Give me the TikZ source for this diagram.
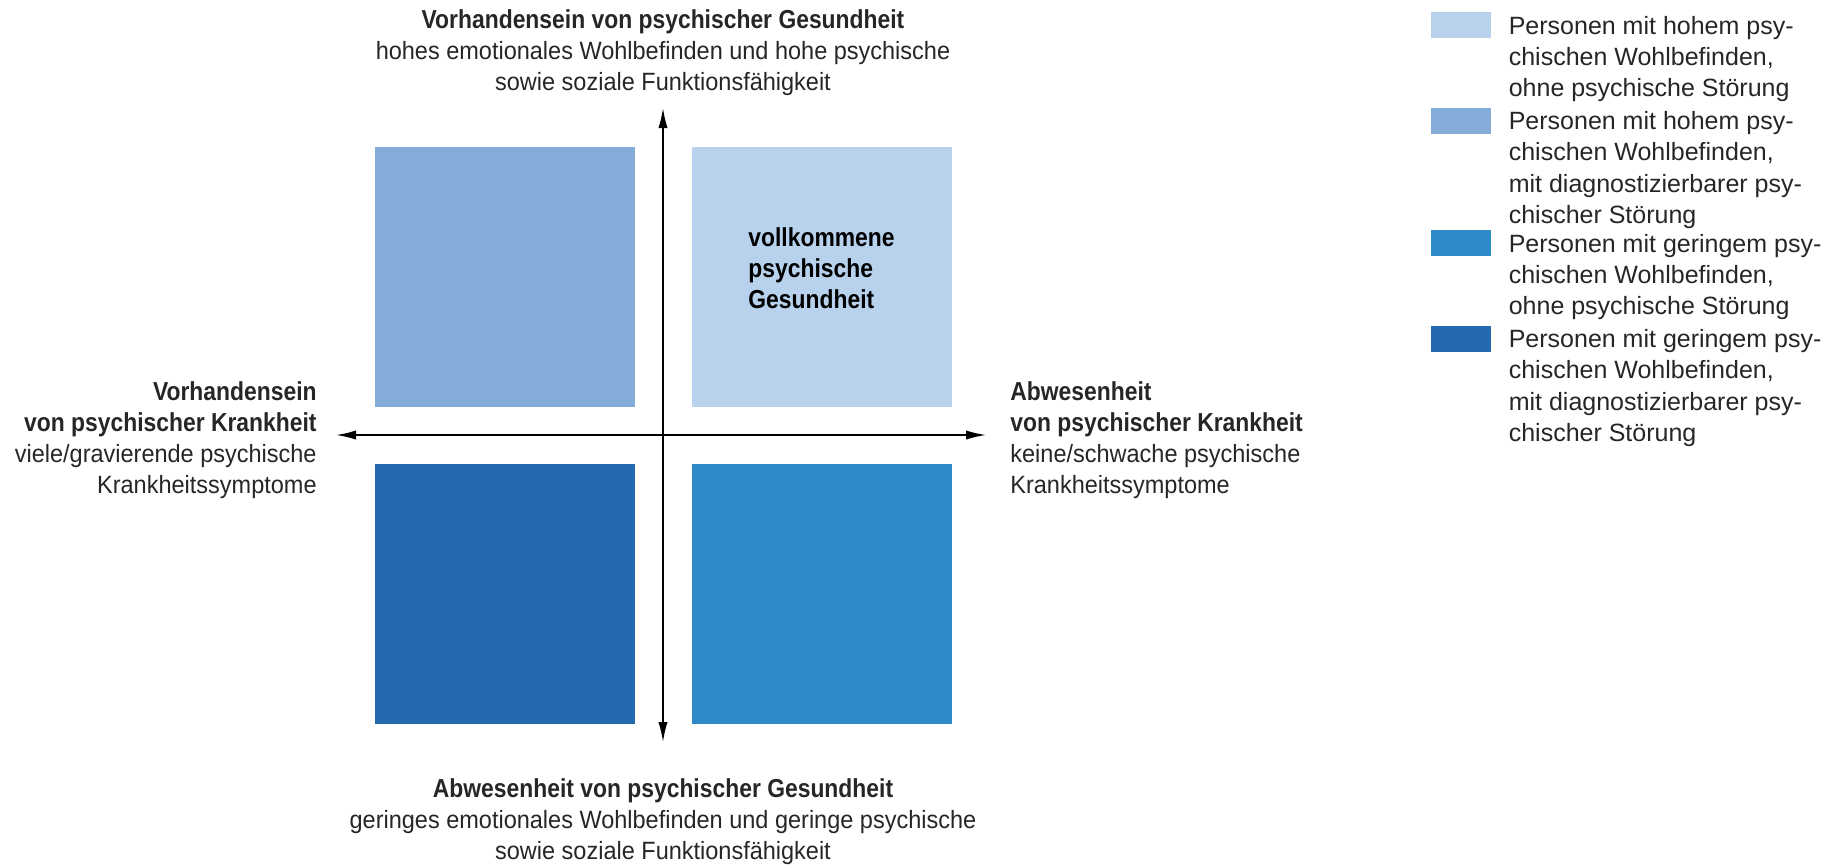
\documentclass[tikz,border=0pt]{standalone}
\usepackage{fontspec}
\setmainfont{Liberation Sans}
\newfontfamily\headfont{Liberation Sans}[FakeStretch=0.88]
\newfontfamily\bodyfont{Liberation Sans}[FakeStretch=0.94]
\newcommand\headtxt{\headfont\bfseries\fontsize{13}{15.6}\selectfont}
\usetikzlibrary{positioning,arrows.meta}
\definecolor{blueLight}{RGB}{184,209,236}
\definecolor{blueMid}{RGB}{131,173,216}
\definecolor{blueBright}{RGB}{46,139,200}
\definecolor{blueDark}{RGB}{35,106,177}
\tikzset{
  quad/.style={draw=none, minimum width=130pt, minimum height=130pt, inner sep=0pt},
  swatch/.style={draw=none, minimum width=30pt, minimum height=13pt, inner sep=0pt},
  axis/.style={{Latex[length=10pt,width=4.6pt]}-{Latex[length=10pt,width=4.6pt]}, line width=0.8pt},
  lbl/.style={inner sep=0pt, font=\fontsize{12.5}{15.6}\selectfont, text=black!85},
  axlbl/.style={lbl, font=\bodyfont\fontsize{12.5}{15.6}\selectfont},
  legtext/.style={lbl, align=left, anchor=north west},
}
\begin{document}
\begin{tikzpicture}[x=0.5pt, y=-0.5pt]
  \useasboundingbox (0,0) rectangle (1827,864);

  % quadrants
  \node[quad, fill=blueMid] (qUL) at (505,277) {};
  \node[quad, fill=blueLight, right=28pt of qUL] (qUR) {};
  \node[quad, fill=blueDark, below=28pt of qUL] (qLL) {};
  \node[quad, fill=blueBright, right=28pt of qLL] (qLR) {};
  \node[lbl, align=left, anchor=west, text=black] (gesund) at (748,268)
    {{\headtxt vollkommene}\\{\headtxt psychische}\\{\headtxt Gesundheit}};

  % axes
  \coordinate (axN) at (663,108);
  \coordinate (axS) at (663,742);
  \coordinate (axW) at (336,435);
  \coordinate (axE) at (986,435);
  \draw[axis] (axS) -- (axN);
  \draw[axis] (axW) -- (axE);

  % axis labels
  \node[axlbl, align=center, anchor=south] (labN) at (663,96)
    {{\headtxt Vorhandensein von psychischer Gesundheit}\\hohes emotionales Wohlbefinden und hohe psychische\\sowie soziale Funktionsfähigkeit};
  \node[axlbl, align=center, anchor=north] (labS) at (663,778)
    {{\headtxt Abwesenheit von psychischer Gesundheit}\\geringes emotionales Wohlbefinden und geringe psychische\\sowie soziale Funktionsfähigkeit};
  \node[axlbl, align=right, anchor=east] (labW) at (317,440)
    {{\headtxt Vorhandensein}\\{\headtxt von psychischer Krankheit}\\viele/gravierende psychische\\Krankheitssymptome};
  \node[axlbl, align=left, anchor=west] (labE) at (1010,440)
    {{\headtxt Abwesenheit}\\{\headtxt von psychischer Krankheit}\\keine/schwache psychische\\Krankheitssymptome};

  % legend
  \node[swatch, fill=blueLight] (sw1) at (1461,25) {};
  \node[swatch, fill=blueMid] (sw2) at (1461,120.5) {};
  \node[swatch, fill=blueBright] (sw3) at (1461,243) {};
  \node[swatch, fill=blueDark] (sw4) at (1461,338.5) {};
  \node[legtext, right=8.5pt of sw1.north east, anchor=north west, yshift=-2pt] (leg1)
    {Personen mit hohem psy-\\chischen Wohlbefinden,\\ohne psychische Störung};
  \node[legtext, right=8.5pt of sw2.north east, anchor=north west, yshift=-2pt] (leg2)
    {Personen mit hohem psy-\\chischen Wohlbefinden,\\mit diagnostizierbarer psy-\\chischer Störung};
  \node[legtext, right=8.5pt of sw3.north east, anchor=north west, yshift=-2pt] (leg3)
    {Personen mit geringem psy-\\chischen Wohlbefinden,\\ohne psychische Störung};
  \node[legtext, right=8.5pt of sw4.north east, anchor=north west, yshift=-2pt] (leg4)
    {Personen mit geringem psy-\\chischen Wohlbefinden,\\mit diagnostizierbarer psy-\\chischer Störung};
\end{tikzpicture}
\end{document}
